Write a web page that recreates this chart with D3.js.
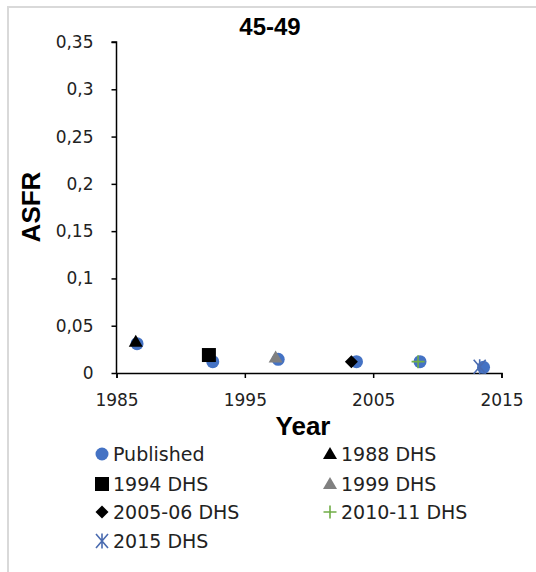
<!DOCTYPE html>
<html>
<head>
<meta charset="utf-8">
<script src="https://cdn.jsdelivr.net/npm/d3@7"></script>
<style>
  body { margin: 0; background: #fff; }
  text { font-family: "DejaVu Sans", sans-serif; }
</style>
</head>
<body>
<script>
// Data (age group 45-49)
var published  = [[1986.6, 0.031], [1992.5, 0.012], [1997.6, 0.0145], [2003.7, 0.012], [2008.65, 0.012], [2013.6, 0.006]]
var dhs1988    = [[1986.5, 0.033]]
var dhs1994    = [[1992.2, 0.019]]
var dhs1999    = [[1997.4, 0.0165]]
var dhs2005    = [[2003.3, 0.012]]
var dhs2010    = [[2008.5, 0.012]]
var dhs2015    = [[2013.3, 0.0065]]
var xTicks     = [1985, 1995, 2005, 2015]
var yTicks     = [0, 0.05, 0.1, 0.15, 0.2, 0.25, 0.3, 0.35]

var series = [
    {name: "Published",   data: published, shape: "circle",   color: "#4472c4"},
    {name: "1988 DHS",    data: dhs1988,   shape: "triangle", color: "#000"},
    {name: "1994 DHS",    data: dhs1994,   shape: "square",   color: "#000"},
    {name: "1999 DHS",    data: dhs1999,   shape: "triangle", color: "#808080"},
    {name: "2005-06 DHS", data: dhs2005,   shape: "diamond",  color: "#000"},
    {name: "2010-11 DHS", data: dhs2010,   shape: "plus",     color: "#70ad47"},
    {name: "2015 DHS",    data: dhs2015,   shape: "star",     color: "#4a6bb0"}
]

var svg = d3.select("body").append("svg")
    .attr("width", 536)
    .attr("height", 572)

// chart frame
svg.append("rect")
    .attr("x", 8).attr("y", 7)
    .attr("width", 560).attr("height", 600)
    .style("fill", "none")
    .style("stroke", "#d9d9d9")
    .style("stroke-width", 2)

var x = d3.scaleLinear().domain([1985, 2015]).range([116.5, 501.5])
var y = d3.scaleLinear().domain([0, 0.35]).range([373, 42])

var fmt = function(d) { return d === 0 ? "0" : String(d).replace(".", ",") }

var yAxis = svg.append("g")
    .attr("transform", "translate(" + x.range()[0] + ",0)")
    .call(d3.axisLeft(y).tickValues(yTicks).tickFormat(fmt).tickSize(5).tickPadding(18))
var xAxis = svg.append("g")
    .attr("transform", "translate(0," + y(0) + ")")
    .call(d3.axisBottom(x).tickValues(xTicks).tickFormat(d3.format("d")).tickSize(5).tickPadding(16))

svg.selectAll(".domain").style("stroke", "#000").style("stroke-width", 1.5)
svg.selectAll(".tick line").style("stroke", "#000").style("stroke-width", 1.5)
svg.selectAll(".tick text").style("font-family", "DejaVu Sans").style("font-size", "17px").style("fill", "#222")
yAxis.select(".domain").attr("d", "M-5," + y(0.35) + "H0V" + y(0))

// titles
svg.append("text")
    .attr("x", 270).attr("y", 35)
    .attr("text-anchor", "middle")
    .style("font-family", "'Liberation Sans', Arial")
    .style("font-weight", "bold").style("font-size", "24px")
    .text("45-49")
svg.append("text")
    .attr("transform", "translate(40,207) rotate(-90)")
    .attr("text-anchor", "middle")
    .style("font-family", "'Liberation Sans', Arial")
    .style("font-weight", "bold").style("font-size", "26px")
    .text("ASFR")
svg.append("text")
    .attr("x", 303).attr("y", 435)
    .attr("text-anchor", "middle")
    .style("font-family", "'Liberation Sans', Arial")
    .style("font-weight", "bold").style("font-size", "26px")
    .text("Year")

// marker shapes
var shapes = {
    triangle: "M0,-7L7,5L-7,5Z",
    square:   "M-7,-7H7V7H-7Z",
    diamond:  "M0,-6.5L6.5,0L0,6.5L-6.5,0Z",
    plus:     "M-6.5,0H6.5M0,-6.5V6.5",
    star:     "M-6,-7L6,7M6,-7L-6,7M0,-7.5V7.5"
}

function drawMarker(g, s) {
    if (s.shape === "circle") {
        g.append("circle").attr("r", 6.5).style("fill", s.color)
    } else if (s.shape === "plus" || s.shape === "star") {
        g.append("path").attr("d", shapes[s.shape])
            .style("stroke", s.color).style("stroke-width", 1.6).style("fill", "none")
    } else {
        g.append("path").attr("d", shapes[s.shape]).style("fill", s.color)
    }
}

series.forEach(function(s) {
    s.data.forEach(function(d) {
        var g = svg.append("g")
            .attr("transform", "translate(" + x(d[0]) + "," + y(d[1]) + ")")
        drawMarker(g, s)
    })
})

// legend
var legCols = [102, 330]
var legRows = [454, 484, 512, 541]
series.forEach(function(s, i) {
    var lx = legCols[i % 2], ly = legRows[Math.floor(i / 2)]
    var g = svg.append("g").attr("transform", "translate(" + lx + "," + ly + ")")
    drawMarker(g.append("g"), s)
    g.append("text")
        .attr("x", 11).attr("y", 7)
        .style("font-size", "19px").style("fill", "#222")
        .text(s.name)
})
</script>
</body>
</html>
